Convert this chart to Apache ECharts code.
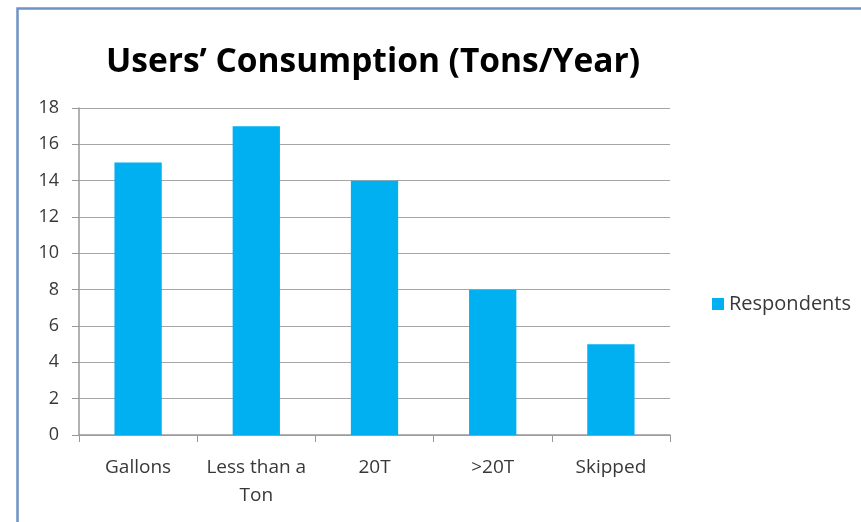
<!DOCTYPE html>
<html>
<head>
<meta charset="utf-8">
<script src="https://cdn.jsdelivr.net/npm/echarts@6/dist/echarts.min.js"></script>
<style>
html,body{margin:0;padding:0;background:#fff;}
#c{width:861px;height:522px;}
</style>
</head>
<body>
<div id="c"></div>
<script>
const titleText = "Users’ Consumption (Tons/Year)";
const categories = ["Gallons", "Less than a\nTon", "20T", ">20T", "Skipped"];
const seriesName = "Respondents";
const values = [15, 17, 14, 8, 5];
const yTicks = { min: 0, max: 18, interval: 2 };

const chart = echarts.init(document.getElementById('c'), null, {renderer: 'canvas'});
const font = "'Open Sans', sans-serif";
chart.setOption({
  animation: false,
  backgroundColor: '#ffffff',
  graphic: [{
    type: 'rect', left: 15, top: 6,
    shape: { width: 900, height: 560 },
    style: { fill: 'none', stroke: '#6f93c6', lineWidth: 2.5 }
  }],
  title: {
    text: titleText, left: 368, top: 40, textAlign: 'center',
    textStyle: { fontFamily: font, fontWeight: 'bold', fontSize: 33.5, color: '#000' }
  },
  legend: {
    left: 707, top: 289, itemWidth: 12, itemHeight: 12, itemGap: 6,
    icon: 'rect',
    textStyle: { fontFamily: font, fontSize: 20, color: '#383838' },
    data: [seriesName]
  },
  grid: { left: 79, right: 191, top: 108, bottom: 87, containLabel: false },
  xAxis: {
    type: 'category', data: categories,
    axisLine: { lineStyle: { color: '#999', width: 1.5 } },
    axisTick: { show: true, length: 7, lineStyle: { color: '#999' } },
    axisLabel: { interval: 0, fontFamily: font, fontSize: 19, color: '#383838', margin: 19, lineHeight: 28 }
  },
  yAxis: {
    type: 'value', min: yTicks.min, max: yTicks.max, interval: yTicks.interval,
    axisLine: { show: true, lineStyle: { color: '#999', width: 1.5 } },
    axisTick: { show: true, length: 7, lineStyle: { color: '#999' } },
    axisLabel: { fontFamily: font, fontSize: 18, color: '#383838', margin: 20 },
    splitLine: { lineStyle: { color: '#a6a6a6', width: 1.2 } }
  },
  series: [{
    name: seriesName, type: 'bar', data: values,
    barWidth: '40%',
    itemStyle: { color: '#00b0f0' }
  }]
});
</script>
</body>
</html>
